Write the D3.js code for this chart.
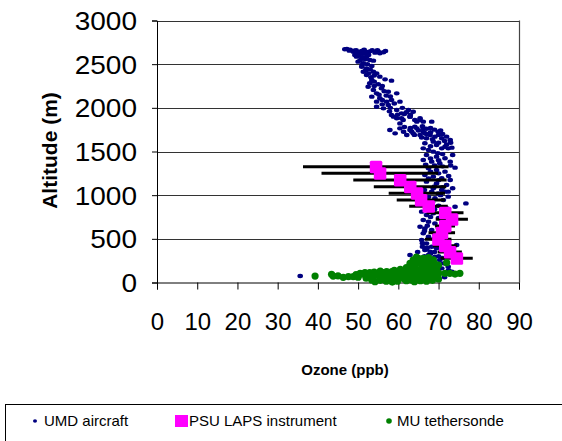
<!DOCTYPE html>
<html><head><meta charset="utf-8">
<script src="https://cdn.jsdelivr.net/npm/d3@7"></script>
<style>body{margin:0;background:#fff}svg{display:block;font-family:"Liberation Sans",Arial,sans-serif}</style>
</head><body><svg id="c" width="562" height="441"></svg>
<script>
const xTicks = [0,10,20,30,40,50,60,70,80,90];
const yTicks = [0,500,1000,1500,2000,2500,3000];
const seriesNames = ["UMD aircraft","PSU LAPS instrument","MU tethersonde"];
// UMD aircraft [ozone ppb, altitude m]
const umdAircraft = [
[46.7,2670],[47.8,2655],[48.8,2643],[50.0,2632],[50.9,2651],[52.1,2640],[52.9,2647],[54.2,2632],[55.4,2624],[56.3,2636],
[49.5,2660],[51.5,2665],[53.5,2660],[48.0,2665],[55.0,2645],
[47.2,2675],[49.0,2655],[50.3,2640],[51.0,2620],[52.5,2630],[54.8,2660],[56.8,2650],[50.2,2600],[51.2,2580],[52.6,2605],[50.5,2545],[51.8,2555],
[49.6,2586],[50.9,2567],[52.1,2586],[52.9,2548],[50.0,2529],[51.3,2510],[53.8,2540],[49.2,2605],[51.7,2624],
[50.9,2471],[52.1,2452],[53.4,2479],[51.3,2414],[53.8,2414],
[51.0,2490],[52.3,2500],[53.0,2440],[51.9,2430],[52.6,2395],[54.0,2370],[53.2,2350],
[52.1,2376],[54.6,2395],[55.4,2357],[53.4,2319],[56.7,2326],[58.3,2311],[52.9,2281],
[54.0,2300],[55.0,2270],[56.0,2250],[54.0,2250],[56.5,2190],[55.2,2150],[57.0,2140],[58.0,2130],[56.0,2090],
[52.5,2242],[53.8,2204],[55.8,2223],[57.5,2185],[59.6,2166],[54.6,2166],
[53.4,2128],[55.4,2109],[57.1,2071],[58.3,2090],[60.4,2071],[54.6,2071],
[54.6,2013],[56.3,1994],[57.5,2032],[59.6,1975],[60.8,1937],[62.5,1975],[63.7,1956],
[56.0,2040],[58.0,2000],[59.0,2050],[61.0,2000],[57.8,1960],[61.5,1930],[59.8,1920],[62.0,1950],[63.0,1920],
[58.3,1918],[59.6,1880],[61.2,1861],[62.9,1899],[64.6,1842],[65.4,1861],[60.4,1822],[64.1,1784],[66.2,1765],
[58.8,1899],[60.8,1880],[62.9,1899],[64.1,1861],[65.4,1880],[66.2,1842],[68.3,1842],
[57.9,1746],[59.2,1708],[60.4,1765],[61.3,1727],[62.1,1689],[62.9,1746],[63.7,1708],[64.6,1765],[65.4,1689],[66.2,1727],
[67.0,1651],[67.9,1689],[69.1,1670],[69.9,1727],[70.8,1651],[72.0,1670],[72.9,1632],[68.7,1613],[66.6,1594],[69.5,1574],[71.6,1555],
[63.3,1730],[65.0,1740],[66.6,1710],[68.0,1720],[64.0,1690],
[61.5,1780],[63.0,1770],[66.0,1790],[67.0,1760],[68.0,1770],[69.0,1750],[70.5,1740],[71.0,1700],[70.0,1690],[67.0,1700],
[65.8,1660],[68.5,1640],[71.5,1620],[73.0,1600],[70.0,1600],[72.0,1580],
[66.2,1536],[67.5,1517],[68.7,1498],[70.8,1536],[72.4,1536],[73.3,1544],[67.0,1460],[69.5,1441],[71.6,1422],[66.2,1403],
[68.3,1384],[70.3,1365],[72.9,1384],[74.1,1315],[67.5,1307],[69.5,1288],[71.6,1269],[66.6,1231],[68.7,1212],[70.8,1193],
[72.9,1174],[67.0,1155],[69.5,1135],[72.0,1116],[68.7,1078],[70.8,1059],[72.4,1040],[69.9,1021],
[68.0,1560],[69.8,1480],[71.0,1470],[73.5,1460],[68.0,1420],[70.0,1400],[66.8,1350],[69.0,1340],[71.0,1330],[73.0,1340],
[68.0,1270],[70.0,1250],[72.5,1220],[67.5,1190],[70.0,1170],[69.0,1100],[71.0,1090],[66.5,1060],[73.5,1080],
[68.3,1040],[71.6,1040],[72.4,983],[69.1,964],[71.2,944],[74.1,868],[76.8,906],
[67.5,980],[70.5,1000],[68.5,920],[70.0,880],[72.0,850],[69.0,840],[66.8,830],[68.0,750],[70.0,740],[71.5,760],
[67.2,650],[70.0,620],[66.5,590],[68.8,500],[70.2,470],[66.0,450],[67.2,400],[69.5,430],[64.8,350],
[65.8,811],[67.0,773],[68.7,792],[66.2,715],[67.5,696],[69.1,677],[65.4,639],[66.6,620],[68.3,601],[66.2,563],
[67.5,525],[69.1,544],[65.8,486],[67.0,448],[68.3,410],[66.6,372],[67.9,353],[69.5,391],[67.5,315],[69.1,296],
[70.3,257],[68.7,238],[69.9,200],[71.2,219],[70.8,162],[72.4,181],[62.9,315],[74.5,429],
[66.0,410],[67.0,380],[68.0,330],[69.0,350],[66.5,300],[67.5,280],[68.5,260],[65.5,270],[70.0,300],[71.0,280],
[72.5,140],[73.3,124],[67.0,40],[68.5,45],[69.6,40],[71.5,60],[35.6,74],[66.0,250],[64.5,240],[67.5,230]
];
// PSU LAPS instrument: altitude, ozone, error
const psuAltitude = [1326,1250,1174,1097,1021,945,872,799,724,647,570,495,421,349,277];
const psuOzone    = [54.4,55.4,60.4,62.9,64.6,65.6,67.5,71.6,73.3,71.6,70.8,69.9,71.6,72.8,74.5];
const psuError    = [18.1,14.5,11.6,9.0,7.0,6.0,4.8,4.6,4.0,2.5,3.3,3.3,3.0,3.0,4.0];
// MU tethersonde [ozone ppb, altitude m]
const muTethersonde = [
[39.3,74],[43.4,94],[43.8,74],[46.3,59],[47.6,67],[48.8,67],[50.5,105],[51.7,113],[52.9,113],[53.4,29],
[54.2,10],[54.6,97],[55.9,116],[57.1,124],[58.4,124],[55.5,48],[56.7,36],[57.9,48],[59.2,59],[59.6,124],
[60.4,135],[61.7,143],[60.8,67],[62.1,74],[62.9,86],[64.2,105],[63.3,29],[64.6,36],[62.9,219],[63.7,258],
[65.0,277],[66.2,277],[67.5,265],[68.7,258],[64.2,162],[65.8,181],[67.0,200],[68.3,181],[69.5,162],[65.4,105],
[66.6,124],[67.9,105],[69.1,124],[69.9,86],[64.6,239],[66.6,239],[67.9,219],[71.6,105],[72.8,105],[74.1,97],
[75.3,105],[72.0,227],
[51.0,95],[52.3,80],[53.8,60],[55.0,85],[56.2,70],[57.5,95],[58.8,80],[60.0,100],[61.2,110],[59.0,30],
[60.2,45],[61.5,40],[57.0,15],[58.2,20],[56.0,110],
[45.0,75],[49.5,90],[50.0,60],[52.0,50],[53.0,95],[54.0,120],[55.5,130],[56.5,100],[57.0,60],[58.0,105],
[59.0,140],[60.0,80],[61.0,60],[61.8,100],[62.0,20],[59.8,15],[58.5,5],[55.5,25],[60.5,150],[62.0,170],
[63.0,150],[64.0,200],[65.0,230],[66.0,210],[67.0,250],[68.0,240],[69.0,220],[70.0,200],[63.5,120],[65.0,140],
[66.5,160],[68.0,150],[69.5,140],[70.0,110],[63.0,60],[64.5,70],[66.0,80],[67.5,60],[69.0,70],[70.0,40],
[65.5,20],[67.0,15],[68.5,25],[64.0,10],[66.0,45],[68.0,90],[65.0,260],[67.5,285],[63.5,180],[69.0,190],
[64.5,290],[66.5,270]
];

const svg = d3.select("#c");
const x = d3.scaleLinear().domain([0,90]).range([157,519]);
const y = d3.scaleLinear().domain([0,3000]).range([282.5,20.5]);
const navy="#000080", pink="#FF00FF", green="#008000";

// gridlines
svg.append("g").selectAll("line").data(yTicks.filter(d=>d>0)).join("line")
  .attr("x1",x(0)).attr("x2",x(90)).attr("y1",d=>Math.round(y(d))+0.5).attr("y2",d=>Math.round(y(d))+0.5)
  .attr("stroke","#333").attr("stroke-width",1.2);
// right border
svg.append("line").attr("x1",x(90)+0.5).attr("x2",x(90)+0.5).attr("y1",y(3000)).attr("y2",y(0))
  .attr("stroke","#444").attr("stroke-width",1.2);

// axes
const yAxis = d3.axisLeft(y).tickValues(yTicks).tickSize(5).tickFormat(d3.format("d"));
const gy = svg.append("g").attr("transform",`translate(${x(0)},0)`).call(yAxis);
gy.select(".domain").attr("stroke","#000");
gy.selectAll(".tick line").attr("stroke","#000");
gy.selectAll(".tick text").attr("font-size",25).attr("fill","#000")
  .attr("transform","translate(-20,0) scale(1.12,1)").attr("x",0).attr("dy","0.36em")
  .attr("font-family","Liberation Sans, Arial, sans-serif");

const xAxis = d3.axisBottom(x).tickValues(xTicks).tickSize(7).tickFormat(d3.format("d"));
const gx = svg.append("g").attr("transform",`translate(0,${y(0)})`).call(xAxis);
gx.select(".domain").attr("stroke","#000");
gx.selectAll(".tick line").attr("stroke","#000");
gx.selectAll(".tick text").attr("font-size",24).attr("fill","#000").attr("y",30).attr("dy","0.71em")
  .attr("font-family","Liberation Sans, Arial, sans-serif");

// axis titles
svg.append("text").attr("transform",`translate(57,150.5) rotate(-90)`).attr("text-anchor","middle")
  .attr("font-size",21).attr("font-weight","bold").text("Altitude (m)");
svg.append("text").attr("x",345).attr("y",375).attr("text-anchor","middle")
  .attr("font-size",15).attr("font-weight","bold").text("Ozone (ppb)");

// UMD aircraft
svg.append("g").selectAll("ellipse").data(umdAircraft).join("ellipse")
  .attr("cx",d=>x(d[0])).attr("cy",d=>y(d[1])).attr("rx",2.8).attr("ry",2.2).attr("fill",navy);

// PSU LAPS with error bars
const psu = psuAltitude.map((a,i)=>({alt:a, oz:psuOzone[i], err:psuError[i]}));
svg.append("g").selectAll("line").data(psu).join("line")
  .attr("x1",d=>x(d.oz-d.err)).attr("x2",d=>x(d.oz+d.err)).attr("y1",d=>y(d.alt)).attr("y2",d=>y(d.alt))
  .attr("stroke","#000").attr("stroke-width",3);
svg.append("g").selectAll("rect").data(psu).join("rect")
  .attr("x",d=>x(d.oz)-6).attr("y",d=>y(d.alt)-6).attr("width",12.5).attr("height",12.5).attr("rx",1.5)
  .attr("fill",pink);

// MU tethersonde
svg.append("g").selectAll("circle").data(muTethersonde).join("circle")
  .attr("cx",d=>x(d[0])).attr("cy",d=>y(d[1])).attr("r",3.6).attr("fill",green);

// legend
const lg = svg.append("g");
lg.append("rect").attr("x",5.5).attr("y",404.5).attr("width",560).attr("height",60).attr("fill","none").attr("stroke","#000");
const legX = [35,175,389], textX=[44,189,397];
lg.append("ellipse").attr("cx",legX[0]).attr("cy",421).attr("rx",2).attr("ry",1.8).attr("fill",navy);
lg.append("rect").attr("x",legX[1]).attr("y",415).attr("width",13).attr("height",12).attr("fill",pink);
lg.append("circle").attr("cx",legX[2]).attr("cy",421).attr("r",2.8).attr("fill",green);
lg.selectAll("text").data(seriesNames).join("text")
  .attr("x",(d,i)=>textX[i]).attr("y",426).attr("font-size",15).attr("fill","#000").text(d=>d);
</script></body></html>
